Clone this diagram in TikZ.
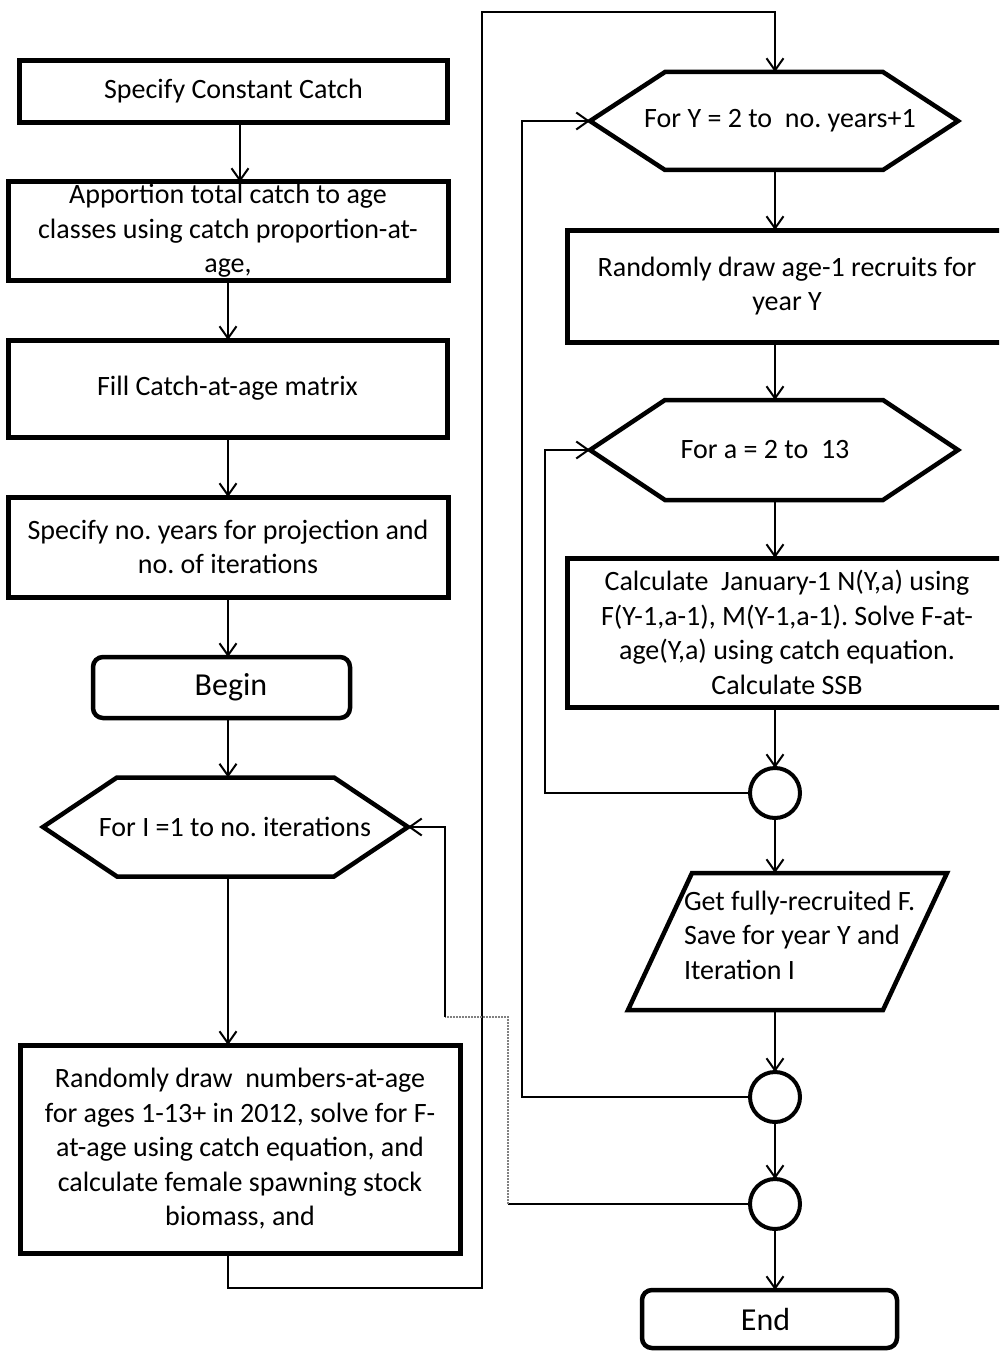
\documentclass[tikz,border=0pt]{standalone}
\usepackage{fontspec}
\setmainfont{Carlito}
\usetikzlibrary{arrows.meta,calc}
\newcommand\hexframe[2]{\draw[frame] (#1.west) -- ([xshift=#2]#1.north west) -- ([xshift=-#2]#1.north east) -- (#1.east) -- ([xshift=-#2]#1.south east) -- ([xshift=#2]#1.south west) -- cycle;}
\frenchspacing
\begin{document}
\begin{tikzpicture}[x=1pt,y=-1pt,
 every node/.style={font=\fontsize{28}{34.5}\selectfont, inner sep=0pt, outer sep=0pt},
 procbox/.style={draw, line width=5pt, align=center},
 termbox/.style={draw, line width=4.5pt, rounded corners=10pt, align=center, font=\fontsize{32}{38}\selectfont},
 joint/.style={draw, line width=4pt, circle, minimum size=50pt},
 shapebox/.style={align=center},
 frame/.style={line width=4.5pt, line join=miter},
 link/.style={line width=2pt},
 arr/.style={link, -{Straight Barb[length=12pt,width=17pt]}},
 dotlink/.style={line width=2pt, gray, densely dotted}]
\useasboundingbox (0,0) rectangle (999,1351);
\clip (0,0) rectangle (999,1351);

% ---------- left column ----------
\node[procbox, minimum width=428pt, minimum height=62pt] (b1) at (233.5,91.5) {Specify Constant Catch};
\node[procbox, minimum width=440pt, minimum height=98pt] (b2) at (228,231) {Apportion total catch to age\\classes using catch proportion-at-\\age,};
\node[procbox, minimum width=439pt, minimum height=97pt] (b3) at (227.5,388.5) {Fill Catch-at-age matrix};
\node[procbox, minimum width=440pt, minimum height=100pt] (b4) at (228,547) {Specify no. years for projection and\\no. of iterations};
\node[termbox, minimum width=257pt, minimum height=61pt] (begin) at (221.5,687.5) {\hspace*{19pt}Begin};
\node[shapebox, minimum width=365pt, minimum height=99pt] (hexI) at (225.5,827) {\hspace*{19pt}For I =1 to no. iterations};
\hexframe{hexI}{74pt}
\node[procbox, minimum width=440pt, minimum height=208pt] (b7) at (240,1149) {Randomly draw~ numbers-at-age\\for ages 1-13+ in 2012, solve for F-\\at-age using catch equation, and\\calculate female spawning stock\\biomass, and};

% ---------- right column ----------
\node[shapebox, minimum width=368pt, minimum height=98pt] (hexY) at (774,121) {\hspace*{12pt}For Y = 2 to~ no. years+1};
\hexframe{hexY}{75pt}
\node[procbox, minimum width=440pt, minimum height=112pt] (r1) at (787,286) {Randomly draw age-1 recruits for\\year Y};
\node[shapebox, minimum width=368pt, minimum height=100pt] (hexA) at (774,450) {\hspace*{-18pt}For a = 2 to~ 13};
\hexframe{hexA}{75pt}
\node[procbox, minimum width=440pt, minimum height=149pt] (r2) at (787,632.5) {Calculate~ January-1 N(Y,a) using\\F(Y-1,a-1), M(Y-1,a-1). Solve F-at-\\age(Y,a) using catch equation.\\Calculate SSB};
\node[joint] (c1) at (775,793) {};
\node[minimum width=319pt, minimum height=137pt] (para) at (787.5,941.5) {};
\draw[frame] ([xshift=64pt]para.north west) -- (para.north east) -- ([xshift=-64pt]para.south east) -- (para.south west) -- cycle;
\node[anchor=west, align=left] (ptext) at (684,935) {Get fully-recruited F.\\Save for year Y and\\Iteration I};
\node[joint] (c2) at (775,1097) {};
\node[joint] (c3) at (775,1204) {};
\node[termbox, minimum width=255pt, minimum height=58pt] (end) at (769.5,1319) {\hspace*{-8pt}End};

% ---------- helper coordinates ----------
\coordinate (colL) at (228,0);
\coordinate (colR) at (775,0);
\coordinate (k1) at (482,1288);
\coordinate (k2) at (482,12);
\coordinate (d1) at (508,1017);
\coordinate (d2) at (445,1017);

% ---------- connectors, left ----------
\draw[arr] ([xshift=6.5pt]b1.south) -- ([xshift=6.5pt]b1.south |- b2.north);
\draw[arr] (b2.south -| colL) -- (b3.north -| colL);
\draw[arr] (b3.south -| colL) -- (b4.north -| colL);
\draw[arr] (b4.south -| colL) -- (begin.north -| colL);
\draw[arr] (begin.south -| colL) -- (hexI.north -| colL);
\draw[arr] (hexI.south -| colL) -- (b7.north -| colL);
\draw[arr] (b7.south -| colL) |- (k1) -- (k2) -| (hexY.north -| colR);

% ---------- connectors, right ----------
\draw[arr] (hexY.south -| colR) -- (r1.north -| colR);
\draw[arr] (r1.south -| colR) -- (hexA.north -| colR);
\draw[arr] (hexA.south -| colR) -- (r2.north -| colR);
\draw[arr] (r2.south -| colR) -- (c1.north);
\draw[arr] (c1.south) -- (para.north -| colR);
\draw[arr] (para.south -| colR) -- (c2.north);
\draw[arr] (c2.south) -- (c3.north);
\draw[arr] (c3.south) -- (end.north -| colR);

% ---------- loops ----------
\draw[arr] (c1.west) -| ([xshift=-45pt]hexA.west) -- (hexA.west);
\draw[arr] (c2.west) -| ([xshift=-68pt]hexY.west) -- (hexY.west);
\draw[link] (c3.west) -- (c3.west -| d1);
\draw[dotlink] (c3.west -| d1) -- (d1) -- (d2);
\draw[arr] (d2) |- (hexI.east);
\end{tikzpicture}
\end{document}
